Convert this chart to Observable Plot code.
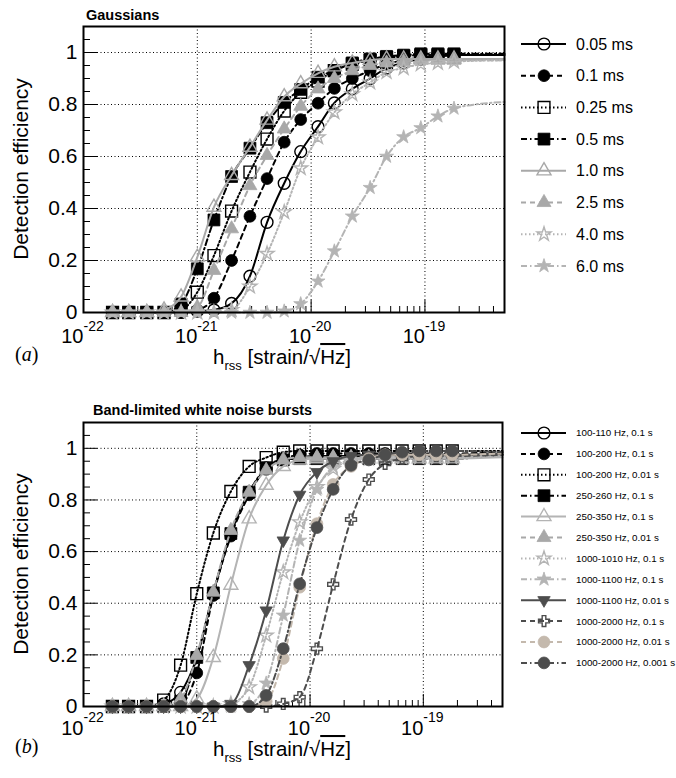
<!DOCTYPE html>
<html><head><meta charset="utf-8">
<script src="https://cdn.jsdelivr.net/npm/d3@7"></script>
<script src="https://cdn.jsdelivr.net/npm/@observablehq/plot@0.6"></script>
<style>
body{margin:0;background:#fff;font-family:"Liberation Sans",Arial,Helvetica,sans-serif}
#wrap{position:relative;width:676px;height:778px;overflow:hidden}
#wrap > svg{position:absolute;left:0}
</style>
</head><body><div id="wrap"></div>
<script>
// ---------- data ----------
const hrss = [1.8e-22, 2.5e-22, 3.6e-22, 5.1e-22, 7.2e-22, 1.0e-21, 1.4e-21, 2.0e-21, 2.9e-21, 4.1e-21, 5.8e-21,
              8.1e-21, 1.15e-20, 1.6e-20, 2.3e-20, 3.3e-20, 4.6e-20, 6.5e-20, 9.2e-20, 1.3e-19, 1.8e-19];
const xDomain = [1e-22, 5e-19];
const yDomain = [0, 1.1];
const xMajorTicks = [1e-22, 1e-21, 1e-20, 1e-19];
const xExponents = ["-22", "-21", "-20", "-19"];
const xGridValues = [1e-21, 1e-20, 1e-19];
const yMajorTicks = [0, 0.2, 0.4, 0.6, 0.8, 1.0];
const yTickLabels = ["0", "0.2", "0.4", "0.6", "0.8", "1"];
const yGridValues = [0.2, 0.4, 0.6, 0.8, 1.0];

// (a) Gaussians
const gaussLabels = ["0.05 ms", "0.1 ms", "0.25 ms", "0.5 ms", "1.0 ms", "2.5 ms", "4.0 ms", "6.0 ms"];
const g005 = [0,0,0,0,0,0.005,0.01,0.035,0.14,0.347,0.497,0.619,0.715,0.806,0.86,0.9,0.94,0.96,0.975,0.985,0.99];
const g01  = [0,0,0,0,0,0.01,0.055,0.2,0.37,0.515,0.655,0.742,0.805,0.862,0.9,0.93,0.955,0.97,0.98,0.985,0.99];
const g025 = [0,0,0,0,0.01,0.078,0.219,0.39,0.54,0.667,0.775,0.847,0.89,0.93,0.955,0.97,0.98,0.985,0.99,0.99,0.99];
const g05  = [0,0,0,0,0.033,0.168,0.356,0.523,0.632,0.73,0.808,0.858,0.905,0.93,0.96,0.975,0.985,0.99,0.995,0.995,0.995];
const g10  = [0,0,0,0.01,0.06,0.213,0.405,0.527,0.636,0.74,0.83,0.88,0.92,0.945,0.96,0.97,0.975,0.975,0.975,0.975,0.975];
const g25  = [0,0,0,0,0,0.02,0.162,0.322,0.488,0.604,0.706,0.793,0.86,0.9,0.93,0.95,0.96,0.965,0.97,0.97,0.97];
const g40  = [0,0,0,0,0,0,0,0.01,0.1,0.226,0.386,0.555,0.674,0.77,0.84,0.885,0.925,0.94,0.955,0.96,0.965];
const g60  = [0,0,0,0,0,0,0,0,0,0,0.005,0.033,0.12,0.236,0.37,0.48,0.6,0.675,0.71,0.755,0.785];
const gaussFitEnd = [0.99, 0.99, 0.99, 0.995, 0.975, 0.97, 0.97, 0.81];

// (b) Band-limited white noise bursts
const bandLabels = ["100-110 Hz, 0.1 s", "100-200 Hz, 0.1 s", "100-200 Hz, 0.01 s", "250-260 Hz, 0.1 s",
  "250-350 Hz, 0.1 s", "250-350 Hz, 0.01 s", "1000-1010 Hz, 0.1 s", "1000-1100 Hz, 0.1 s",
  "1000-1100 Hz, 0.01 s", "1000-2000 Hz, 0.1 s", "1000-2000 Hz, 0.01 s", "1000-2000 Hz, 0.001 s"];
const b1  = [0,0,0,0.01,0.055,0.19,0.44,0.67,0.83,0.92,0.955,0.965,0.97,0.97,0.97,0.97,0.97,0.97,0.97,0.97,0.97];
const b2  = [0,0,0,0,0.01,0.13,0.43,0.66,0.82,0.925,0.96,0.975,0.98,0.98,0.98,0.98,0.98,0.98,0.98,0.98,0.98];
const b3  = [0,0,0,0.025,0.16,0.437,0.672,0.833,0.93,0.964,0.985,0.99,0.99,0.99,0.99,0.99,0.99,0.99,0.99,0.99,0.99];
const b4  = [0,0,0,0,0.02,0.19,0.44,0.67,0.83,0.925,0.955,0.96,0.96,0.96,0.96,0.96,0.96,0.96,0.96,0.96,0.96];
const b5  = [0,0,0,0,0,0.03,0.19,0.47,0.727,0.857,0.93,0.955,0.96,0.96,0.96,0.96,0.96,0.96,0.96,0.96,0.96];
const b6  = [0,0,0,0,0.03,0.198,0.443,0.682,0.83,0.915,0.955,0.965,0.965,0.965,0.965,0.965,0.965,0.965,0.965,0.965,0.965];
const b7  = [0,0,0,0,0,0,0,0.01,0.075,0.275,0.52,0.714,0.85,0.92,0.95,0.96,0.965,0.965,0.965,0.965,0.965];
const b8  = [0,0,0,0,0,0,0,0,0.01,0.09,0.353,0.643,0.84,0.928,0.955,0.965,0.97,0.97,0.97,0.97,0.97];
const b9  = [0,0,0,0,0,0,0,0.01,0.16,0.372,0.643,0.82,0.908,0.95,0.97,0.975,0.975,0.975,0.975,0.975,0.975];
const b10 = [0,0,0,0,0,0,0,0,0,0,0.01,0.036,0.224,0.473,0.724,0.879,0.94,0.96,0.97,0.97,0.97];
const b11 = [0,0,0,0,0,0,0,0,0,0.02,0.186,0.462,0.708,0.86,0.93,0.96,0.975,0.975,0.975,0.975,0.975];
const b12 = [0,0,0,0,0,0,0,0,0,0.043,0.224,0.475,0.693,0.841,0.934,0.955,0.975,0.985,0.99,0.99,0.99];
const bandFitEnd = [0.975, 0.985, 0.99, 0.975, 0.965, 0.97, 0.97, 0.975, 0.98, 0.975, 0.98, 0.985];

// ---------- styles ----------
const symbolDown = {draw(ctx, size) {
  const y = -Math.sqrt(size / (Math.sqrt(3) * 3));
  ctx.moveTo(0, -y * 2); ctx.lineTo(-Math.sqrt(3) * y, y); ctx.lineTo(Math.sqrt(3) * y, y); ctx.closePath();
}};
const SYM = {circle: d3.symbolCircle, square: d3.symbolSquare, triangle: d3.symbolTriangle, star: d3.symbolStar, cross: d3.symbolCross, down: symbolDown};
const R = {circle: 5.9, square: 6.7, triangle: 5.2, star: 4.4, cross: 4.6, down: 4.6};
const DASH = {solid: null, dashed: "5,4", dotted: "1.5,2.5", dashdot: "6,3,1.5,3"};
const BLACK = "#000", GRAY = "#a8a8a8", LGRAY = "#b4b4b4", DGRAY = "#4d4d4d", TAN = "#c4b9ad";

const gaussStyles = [
  [BLACK, "solid", "circle", false], [BLACK, "dashed", "circle", true],
  [BLACK, "dotted", "square", false], [BLACK, "dashdot", "square", true],
  [GRAY, "solid", "triangle", false], [GRAY, "dashed", "triangle", true],
  [LGRAY, "dotted", "star", false], [LGRAY, "dashdot", "star", true]];
const bandStyles = [
  [BLACK, "solid", "circle", false], [BLACK, "dashed", "circle", true],
  [BLACK, "dotted", "square", false], [BLACK, "dashdot", "square", true],
  [LGRAY, "solid", "triangle", false], [GRAY, "dashed", "triangle", true],
  [LGRAY, "dotted", "star", false], [LGRAY, "dashdot", "star", true],
  [DGRAY, "solid", "down", true], [DGRAY, "dashed", "cross", false],
  [TAN, "dashed", "circle", true], [DGRAY, "dashdot", "circle", true]];

const minorX = [];
for (let e = -22; e <= -19; e++) for (let m = 2; m <= 9; m++) { const v = m * 10 ** e; if (v <= xDomain[1]) minorX.push(v); }
const minorY = d3.range(0, 23).map(i => +(i * 0.05).toFixed(2)).filter(v => !yMajorTicks.includes(v) && v <= 1.1);

function makePanel(cfg) {
  const {values, labels, styles, fitEnd, height, marginTop, marginBottom, marginRight, tenDy, expDy} = cfg;
  const plotH = height - marginTop - marginBottom;
  const plotW = 676 - 83 - marginRight;
  const ypp = (yDomain[1] - yDomain[0]) / plotH;
  const decPx = plotW / Math.log10(xDomain[1] / xDomain[0]);
  const xAt = px => xDomain[0] * 10 ** (px / decPx);
  const dotted = {stroke: "black", strokeWidth: 1, strokeDasharray: "1,2.5"};
  const marks = [
    Plot.ruleX(xGridValues, dotted),
    Plot.ruleY(yGridValues, dotted),
    Plot.ruleX(minorX, {y1: 0, y2: 6 * ypp, stroke: "black", strokeWidth: 1}),
    Plot.ruleX(xMajorTicks, {y1: 0, y2: 12 * ypp, stroke: "black", strokeWidth: 1}),
    Plot.ruleY(minorY, {x1: xDomain[0], x2: xAt(7), stroke: "black", strokeWidth: 1}),
    Plot.ruleY(yMajorTicks, {x1: xDomain[0], x2: xAt(14), stroke: "black", strokeWidth: 1})
  ];
  values.forEach((vals, i) => {
    const [color, dash, sym, filled] = styles[i];
    const pts = hrss.map((h, k) => ({h, e: vals[k], series: labels[i]}));
    const linePts = pts.concat([{h: xDomain[1], e: fitEnd[i], series: labels[i]}]);
    marks.push(Plot.line(linePts, {x: "h", y: "e", stroke: color, strokeWidth: 2, strokeDasharray: DASH[dash], curve: "monotone-x"}));
    marks.push(Plot.dot(pts, {x: "h", y: "e", symbol: SYM[sym], r: R[sym],
      fill: filled ? color : "none", stroke: color, strokeWidth: filled ? 0.8 : 1.4}));
  });
  marks.push(Plot.frame({stroke: "black", strokeWidth: 2}));
  marks.push(Plot.text(yMajorTicks, {y: d => d, text: (d, i) => yTickLabels[i], frameAnchor: "left", textAnchor: "end", lineAnchor: "middle", dx: -6, fontSize: 21, fill: "black"}));
  marks.push(Plot.text(xMajorTicks, {x: d => d, text: () => "10", frameAnchor: "bottom", textAnchor: "end", lineAnchor: "middle", dy: tenDy, fontSize: 20, fill: "black"}));
  marks.push(Plot.text(xMajorTicks, {x: d => d, text: (d, i) => xExponents[i], frameAnchor: "bottom", textAnchor: "start", lineAnchor: "middle", dy: expDy, fontSize: 14, fill: "black"}));
  return Plot.plot({
    width: 676, height, marginLeft: 83, marginRight, marginTop, marginBottom,
    x: {type: "log", domain: xDomain, axis: null},
    y: {domain: yDomain, axis: null},
    style: {fontFamily: '"Liberation Sans", Arial, Helvetica, sans-serif', background: "transparent", overflow: "visible"},
    marks
  });
}

const wrap = document.getElementById("wrap");
const panelA = makePanel({values: [g005, g01, g025, g05, g10, g25, g40, g60], labels: gaussLabels, styles: gaussStyles,
  fitEnd: gaussFitEnd, height: 390, marginTop: 26, marginBottom: 78, marginRight: 172, tenDy: 24, expDy: 14});
panelA.style.top = "0px";
wrap.appendChild(panelA);
const panelB = makePanel({values: [b1, b2, b3, b4, b5, b6, b7, b8, b9, b10, b11, b12], labels: bandLabels, styles: bandStyles,
  fitEnd: bandFitEnd, height: 388, marginTop: 32, marginBottom: 72, marginRight: 174, tenDy: 22, expDy: 11});
panelB.style.top = "390px";
wrap.appendChild(panelB);

// ---------- overlay: titles, axis labels, legends ----------
const ov = d3.select(wrap).append("svg").attr("width", 676).attr("height", 778)
  .style("position", "absolute").style("left", 0).style("top", 0)
  .attr("font-family", '"Liberation Sans", Arial, Helvetica, sans-serif');

function titles(title, tx, ty, yLabelCy, xLabelBase, tag) {
  ov.append("text").attr("x", tx).attr("y", ty).attr("font-size", 14.5).attr("font-weight", "bold").text(title);
  ov.append("text").attr("transform", `translate(28,${yLabelCy}) rotate(-90)`).attr("text-anchor", "middle")
    .attr("font-size", 21).text("Detection efficiency");
  const t = ov.append("text").attr("x", 213).attr("y", xLabelBase).attr("font-size", 20.5);
  t.append("tspan").text("h");
  t.append("tspan").attr("font-size", 13).attr("dy", 6).text("rss");
  t.append("tspan").attr("dy", -6).text(" [strain/\u221A");
  t.append("tspan").style("text-decoration", "overline").text("Hz");
  t.append("tspan").text("]");
  const g = ov.append("text").attr("x", 15).attr("y", xLabelBase - 3).attr("font-size", 20)
    .attr("font-family", '"Liberation Serif", "DejaVu Serif", serif');
  g.append("tspan").text("(");
  g.append("tspan").attr("font-style", "italic").text(tag);
  g.append("tspan").text(")");
}
titles("Gaussians", 86, 20, 169, 364, "a");
titles("Band-limited white noise bursts", 93, 415, 564, 756, "b");

function legend(labels, styles, y0, dy, fontSize) {
  labels.forEach((lab, i) => {
    const [color, dash, sym, filled] = styles[i];
    const y = y0 + i * dy;
    ov.append("line").attr("x1", 521).attr("x2", 566).attr("y1", y).attr("y2", y)
      .attr("stroke", color).attr("stroke-width", 2).attr("stroke-dasharray", DASH[dash]);
    ov.append("path").attr("d", d3.symbol(SYM[sym], Math.PI * R[sym] * R[sym])())
      .attr("transform", `translate(544,${y})`)
      .attr("fill", filled ? color : "none").attr("stroke", color).attr("stroke-width", filled ? 0.8 : 1.4);
    ov.append("text").attr("x", 576).attr("y", y).attr("dy", "0.35em").attr("font-size", fontSize).text(lab);
  });
}
legend(gaussLabels, gaussStyles, 44, 31.7, 16);
legend(bandLabels, bandStyles, 433, 20.9, 9.8);
</script>
</body></html>
